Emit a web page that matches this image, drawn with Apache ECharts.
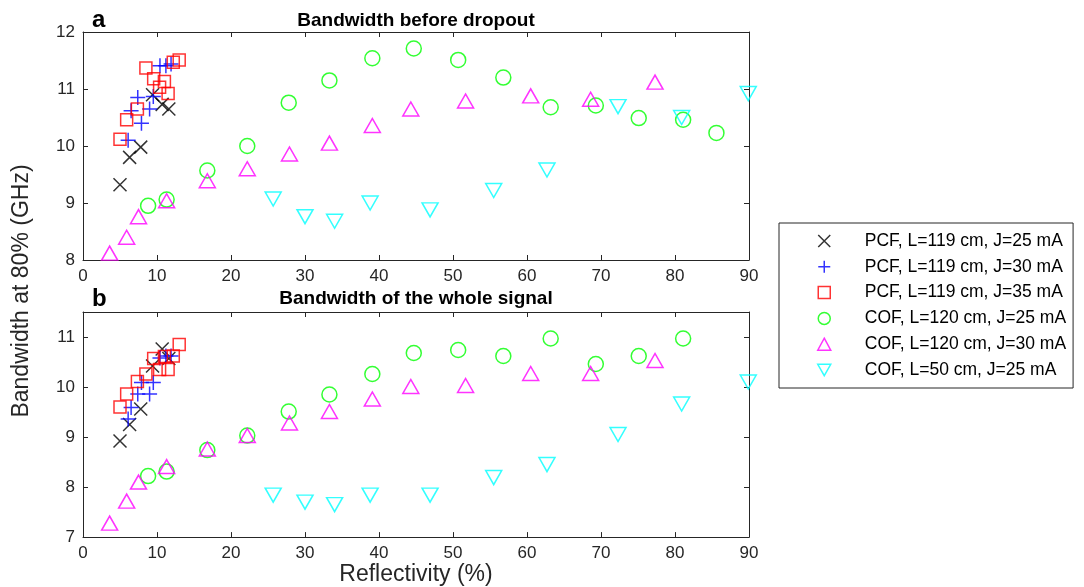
<!DOCTYPE html>
<html>
<head>
<meta charset="utf-8">
<script src="https://cdn.jsdelivr.net/npm/echarts@6/dist/echarts.min.js"></script>
<style>html,body{margin:0;padding:0;background:#fff}#c{width:1084px;height:587px}</style>
</head>
<body>
<div id="c"></div>
<script>
// ---- data (reflectivity %, bandwidth GHz) ----
var names = ['PCF, L=119 cm, J=25 mA','PCF, L=119 cm, J=30 mA','PCF, L=119 cm, J=35 mA',
             'COF, L=120 cm, J=25 mA','COF, L=120 cm, J=30 mA','COF, L=50 cm, J=25 mA'];
var xTicks = [0,10,20,30,40,50,60,70,80,90];

var pcf25X   = [5.0, 6.3, 7.8, 9.4, 10.7, 11.6];
var pcf25Top = [9.32, 9.80, 9.98, 10.90, 10.73, 10.65];
var pcf25Bot = [8.92, 9.25, 9.56, 10.42, 10.76, 10.57];

var pcf30X   = [6.1, 6.5, 7.4, 7.9, 9.0, 9.5, 10.4, 11.2, 11.9];
var pcf30Top = [10.10, 10.62, 10.85, 10.40, 10.65, 10.87, 11.41, 11.41, 11.44];
var pcf30Bot = [9.36, 9.59, 9.86, 10.09, 9.86, 10.09, 10.58, 10.62, 10.62];

var pcf35X   = [5.0, 5.9, 7.35, 8.5, 9.55, 10.35, 11.0, 11.5, 12.2, 13.0];
var pcf35Top = [10.12, 10.46, 10.65, 11.37, 11.18, 11.03, 11.13, 10.92, 11.47, 11.51];
var pcf35Bot = [9.60, 9.86, 10.11, 10.26, 10.57, 10.35, 10.61, 10.35, 10.62, 10.85];

var cof120j25X   = [8.8, 11.3, 16.8, 22.2, 27.8, 33.3, 39.1, 44.7, 50.7, 56.8, 63.2, 69.3, 75.1, 81.1, 85.6];
var cof120j25Top = [8.95, 9.06, 9.57, 10.00, 10.76, 11.15, 11.54, 11.71, 11.51, 11.20, 10.68, 10.71, 10.49, 10.46, 10.23];
var cof120j25Bot = [8.22, 8.31, 8.74, 9.03, 9.51, 9.85, 10.26, 10.68, 10.74, 10.62, 10.97, 10.46, 10.62, 10.97, null];

var cof120j30X   = [3.6, 5.9, 7.5, 11.3, 16.8, 22.2, 27.9, 33.3, 39.1, 44.3, 51.7, 60.5, 68.6, 77.3];
var cof120j30Top = [8.12, 8.40, 8.76, 9.04, 9.39, 9.60, 9.86, 10.05, 10.36, 10.65, 10.79, 10.88, 10.82, 11.12];
var cof120j30Bot = [7.28, 7.72, 8.10, 8.41, 8.76, 9.03, 9.28, 9.51, 9.76, 10.01, 10.03, 10.27, 10.27, 10.53];

var cof50X   = [25.7, 30.0, 34.0, 38.8, 46.9, 55.5, 62.7, 72.3, 80.9, 89.9];
var cof50Top = [9.07, 8.76, 8.68, 9.00, 8.88, 9.22, 9.58, 10.69, 10.50, 10.92];
var cof50Bot = [7.84, 7.70, 7.65, 7.84, 7.84, 8.19, 8.45, 9.05, 9.66, 10.10];

// ---- styling ----
var FONT = 'Liberation Sans, Arial, Helvetica, sans-serif';
var AX = '#262626';
var SYM_X = 'path://M0,0L10,10M0,10L10,0';
var SYM_PLUS = 'path://M5,0L5,10M0,5L10,5';
var SYM_SQ = 'path://M0,0L10,0L10,10L0,10Z';
var SYM_DOWN = 'path://M0,0L16,0L8,14Z';

var styles = [
  {sym: SYM_X, size: 13, color: '#000000'},
  {sym: SYM_PLUS, size: 15, color: '#0000ff'},
  {sym: SYM_SQ, size: 12, color: '#ff0000'},
  {sym: 'circle', size: 15, color: '#00ff00'},
  {sym: 'triangle', size: [16, 14], color: '#ff00ff'},
  {sym: SYM_DOWN, size: [16, 14], color: '#00ffff'}
];
var xsList = [pcf25X, pcf30X, pcf35X, cof120j25X, cof120j30X, cof50X];
var topList = [pcf25Top, pcf30Top, pcf35Top, cof120j25Top, cof120j30Top, cof50Top];
var botList = [pcf25Bot, pcf30Bot, pcf35Bot, cof120j25Bot, cof120j30Bot, cof50Bot];

function pts(xs, ys) {
  var out = [];
  for (var i = 0; i < xs.length; i++) if (ys[i] != null) out.push([xs[i], ys[i]]);
  return out;
}
var series = [];
[topList, botList].forEach(function (list, g) {
  for (var k = 0; k < 6; k++) {
    var s = styles[k];
    series.push({
      type: 'scatter', name: names[k], xAxisIndex: g * 2, yAxisIndex: g * 2,
      symbol: s.sym, symbolSize: s.size, symbolKeepAspect: false,
      itemStyle: {color: 'rgba(0,0,0,0)', borderColor: s.color, borderWidth: 1.5},
      emphasis: {disabled: true}, silent: true, clip: false,
      data: pts(xsList[k], list[k])
    });
  }
});

var line = {show: true, onZero: false, lineStyle: {color: AX, width: 1}};
var tick = {show: true, inside: true, length: 5, lineStyle: {color: AX, width: 1}};
var lab = {color: AX, fontSize: 17, fontFamily: FONT, margin: 8};

function xAx(g, pos, showLab, extra) {
  var o = {gridIndex: g, type: 'value', position: pos, min: xTicks[0], max: xTicks[xTicks.length - 1],
    interval: xTicks[1] - xTicks[0], axisLine: line, axisTick: tick, splitLine: {show: false},
    axisLabel: showLab ? lab : {show: false}};
  return Object.assign(o, extra || {});
}
function yAx(g, pos, showLab, mn, mx, extraLab) {
  return {gridIndex: g, type: 'value', position: pos, min: mn, max: mx, interval: 1,
    axisLine: line, axisTick: tick, splitLine: {show: false},
    axisLabel: showLab ? Object.assign({}, lab, extraLab || {}) : {show: false}};
}

var option = {
  animation: false,
  backgroundColor: '#ffffff',
  grid: [
    {left: 83, top: 32, width: 666, height: 228},
    {left: 83, top: 312, width: 666, height: 228}
  ],
  xAxis: [
    xAx(0, 'bottom', true), xAx(0, 'top', false),
    xAx(1, 'bottom', true, {name: 'Reflectivity (%)', nameLocation: 'middle', nameGap: 21,
      nameTextStyle: {fontSize: 23, color: AX, fontFamily: FONT}}),
    xAx(1, 'top', false)
  ],
  yAxis: [
    yAx(0, 'left', true, 8, 12), yAx(0, 'right', false, 8, 12),
    yAx(1, 'left', true, 7, 11.5, {showMaxLabel: false}), yAx(1, 'right', false, 7, 11.5)
  ],
  legend: {
    orient: 'vertical', left: 779, top: 223, padding: [9, 7, 9, 38], itemGap: 7.8,
    itemWidth: 13, itemHeight: 12, borderColor: AX, borderWidth: 1, backgroundColor: '#fff',
    selectedMode: false, symbolKeepAspect: true,
    itemStyle: {borderWidth: 1.5},
    textStyle: {fontSize: 17.5, color: '#000', fontFamily: FONT, padding: [0, 0, 0, 29]},
    data: names
  },
  graphic: [
    {type: 'text', x: 416, y: 30, style: {text: 'Bandwidth before dropout', font: 'bold 19px ' + FONT,
      fill: '#000', textAlign: 'center', textVerticalAlign: 'bottom'}},
    {type: 'text', x: 416, y: 308, style: {text: 'Bandwidth of the whole signal', font: 'bold 19px ' + FONT,
      fill: '#000', textAlign: 'center', textVerticalAlign: 'bottom'}},
    {type: 'text', x: 92, y: 32, style: {text: 'a', font: 'bold 24px ' + FONT, fill: '#000',
      textVerticalAlign: 'bottom'}},
    {type: 'text', x: 92, y: 311, style: {text: 'b', font: 'bold 24px ' + FONT, fill: '#000',
      textVerticalAlign: 'bottom'}},
    {type: 'text', x: 22, y: 291, rotation: Math.PI / 2, style: {text: 'Bandwidth at 80% (GHz)',
      font: '23px ' + FONT, fill: AX, textAlign: 'center', textVerticalAlign: 'middle'}}
  ],
  series: series
};
var chart = echarts.init(document.getElementById('c'), null, {renderer: 'canvas'});
chart.setOption(option);
</script>
</body>
</html>
